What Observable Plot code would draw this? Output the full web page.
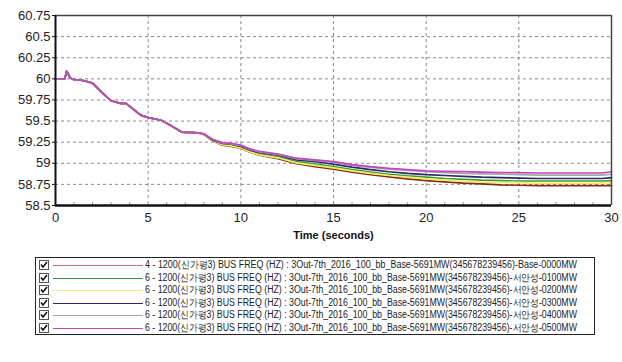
<!DOCTYPE html>
<html><head><meta charset="utf-8">
<script src="https://cdn.jsdelivr.net/npm/d3@7"></script>
<script src="https://cdn.jsdelivr.net/npm/@observablehq/plot@0.6"></script>
<style>
body{margin:0;background:#fff;font-family:"Liberation Sans",Arial,sans-serif;}
#chart{position:absolute;left:0;top:0;}
#legend{position:absolute;left:35px;top:257px;width:560px;height:78px;border:1px solid #222;box-sizing:border-box;background:#fff}
.row{position:absolute;left:0;height:12px;width:100%}
.cb{position:absolute;left:3px;top:1px}
.ln{position:absolute;left:17px;width:90px;top:6px;height:0;border-top:1px solid}
.tx{position:absolute;left:109px;top:0;font-size:10px;line-height:12px;color:#222;white-space:nowrap;transform-origin:0 50%}
</style></head>
<body>
<div id="chart"></div>
<div id="legend"></div>
<script>
const time = [0, 0.5, 0.6, 0.8, 1.0, 1.5, 2.0, 2.5, 3.0, 3.5, 3.8, 4.2, 4.6, 5.0, 5.7, 6.2, 6.8, 7.7, 8.0, 8.5, 9.0, 9.5, 10, 10.5, 11, 12, 13, 14, 15, 16, 17, 18, 19, 20, 21, 22, 23, 24, 25, 26, 27, 28, 29, 29.5, 30];

const freqBase = [60.0, 60.0, 60.09, 60.01, 59.99, 59.98, 59.95, 59.84, 59.74, 59.71, 59.71, 59.64, 59.57, 59.54, 59.51, 59.45, 59.37, 59.36,
  59.34, 59.26, 59.215, 59.20, 59.175, 59.13, 59.095, 59.055, 58.995, 58.96, 58.93, 58.895, 58.865, 58.84, 58.815, 58.795, 58.78, 58.765, 58.755, 58.745, 58.74, 58.735, 58.735, 58.735, 58.735, 58.735, 58.735];
const freq0100 = [60.0, 60.0, 60.09, 60.01, 59.99, 59.98, 59.95, 59.84, 59.74, 59.71, 59.71, 59.64, 59.57, 59.54, 59.51, 59.45, 59.37, 59.36,
  59.34, 59.27, 59.23, 59.215, 59.19, 59.145, 59.11, 59.075, 59.02, 58.99, 58.96, 58.925, 58.895, 58.87, 58.85, 58.835, 58.82, 58.81, 58.80, 58.795, 58.79, 58.79, 58.79, 58.79, 58.79, 58.79, 58.795];
const freq0200 = [60.0, 60.0, 60.09, 60.01, 59.99, 59.98, 59.95, 59.84, 59.74, 59.71, 59.71, 59.64, 59.57, 59.54, 59.51, 59.45, 59.37, 59.36,
  59.34, 59.26, 59.22, 59.205, 59.18, 59.135, 59.10, 59.065, 59.005, 58.975, 58.945, 58.91, 58.88, 58.855, 58.835, 58.815, 58.80, 58.79, 58.78, 58.775, 58.77, 58.765, 58.765, 58.765, 58.765, 58.765, 58.77];
const freq0300 = [60.0, 60.0, 60.09, 60.01, 59.99, 59.98, 59.95, 59.84, 59.74, 59.71, 59.71, 59.64, 59.57, 59.54, 59.51, 59.45, 59.37, 59.36,
  59.35, 59.27, 59.235, 59.225, 59.20, 59.155, 59.125, 59.095, 59.04, 59.02, 58.99, 58.955, 58.925, 58.90, 58.88, 58.865, 58.855, 58.845, 58.835, 58.83, 58.825, 58.82, 58.82, 58.82, 58.82, 58.82, 58.83];
const freq0400 = [60.0, 60.0, 60.09, 60.01, 59.99, 59.98, 59.95, 59.84, 59.74, 59.71, 59.71, 59.64, 59.57, 59.54, 59.51, 59.45, 59.37, 59.36,
  59.35, 59.28, 59.24, 59.23, 59.21, 59.165, 59.135, 59.105, 59.055, 59.035, 59.01, 58.975, 58.95, 58.93, 58.915, 58.90, 58.89, 58.88, 58.875, 58.87, 58.865, 58.86, 58.86, 58.86, 58.86, 58.86, 58.87];
const freq0500 = [60.0, 60.0, 60.09, 60.01, 59.99, 59.98, 59.95, 59.84, 59.74, 59.71, 59.71, 59.64, 59.57, 59.54, 59.51, 59.45, 59.37, 59.36,
  59.35, 59.28, 59.245, 59.235, 59.215, 59.17, 59.14, 59.11, 59.06, 59.04, 59.02, 58.985, 58.96, 58.94, 58.925, 58.91, 58.905, 58.90, 58.895, 58.89, 58.89, 58.885, 58.885, 58.885, 58.885, 58.885, 58.90];

const seriesNames = [
  "4 - 1200(신가평3) BUS FREQ (HZ) : 3Out-7th_2016_100_bb_Base-5691MW(345678239456)-Base-0000MW",
  "6 - 1200(신가평3) BUS FREQ (HZ) : 3Out-7th_2016_100_bb_Base-5691MW(345678239456)-서안성-0100MW",
  "6 - 1200(신가평3) BUS FREQ (HZ) : 3Out-7th_2016_100_bb_Base-5691MW(345678239456)-서안성-0200MW",
  "6 - 1200(신가평3) BUS FREQ (HZ) : 3Out-7th_2016_100_bb_Base-5691MW(345678239456)-서안성-0300MW",
  "6 - 1200(신가평3) BUS FREQ (HZ) : 3Out-7th_2016_100_bb_Base-5691MW(345678239456)-서안성-0400MW",
  "6 - 1200(신가평3) BUS FREQ (HZ) : 3Out-7th_2016_100_bb_Base-5691MW(345678239456)-서안성-0500MW"
];
const seriesColors = ["#8a2a1a", "#3a9a3a", "#f2f060", "#2a2a66", "#a8a8a8", "#c048c0"];
const legendLineColors = ["#c07080", "#3a9a3a", "#eeea90", "#2a2a66", "#a8a8a8", "#c048c0"];
const seriesValues = [freqBase, freq0100, freq0200, freq0300, freq0400, freq0500];

const xTicks = [0, 5, 10, 15, 20, 25, 30];
const xMinorTicks = [1,2,3,4,6,7,8,9,11,12,13,14,16,17,18,19,21,22,23,24,26,27,28,29];
const yTicks = [58.5, 58.75, 59, 59.25, 59.5, 59.75, 60, 60.25, 60.5, 60.75];
const xLabel = "Time (seconds)";

const rows = [];
seriesValues.forEach((vals, si) => {
  vals.forEach((v, i) => rows.push({series: seriesNames[si], t: time[i], f: v}));
});

const innerX = xTicks.slice(1, -1);
const innerY = yTicks.slice(1, -1);
const yMin = yTicks[0], yMax = yTicks[yTicks.length - 1];

const plot = Plot.plot({
  width: 622,
  height: 245,
  marginLeft: 55,
  marginRight: 11,
  marginTop: 15,
  marginBottom: 40,
  style: {fontFamily: "'Liberation Sans', Arial, sans-serif", background: "#fff", color: "#222"},
  x: {domain: [xTicks[0], xTicks[xTicks.length - 1]], axis: null},
  y: {domain: [yMin, yMax], axis: null},
  color: {domain: seriesNames, range: seriesColors},
  marks: [
    Plot.ruleY(innerY, {y: d => d, stroke: "#8a8a8a", strokeDasharray: "3,3", strokeWidth: 1}),
    Plot.ruleX(innerX, {x: d => d, stroke: "#8a8a8a", strokeDasharray: "3,3", strokeWidth: 1}),
    Plot.line(rows, {x: "t", y: "f", z: "series", stroke: "series", strokeWidth: 1.7}),
    Plot.ruleY([yMax], {stroke: "#444", strokeWidth: 1.5}),
    Plot.ruleX([30], {stroke: "#444", strokeWidth: 1.5}),
    Plot.axisX(xMinorTicks, {anchor: "bottom", tickSize: -3, tickFormat: () => "", label: null, stroke: "#999"}),
    Plot.ruleX([0], {stroke: "#111", strokeWidth: 2}),
    Plot.ruleY([yMin], {stroke: "#111", strokeWidth: 2.5}),
    Plot.axisY(yTicks, {anchor: "left", tickSize: 3, tickPadding: 2, fontSize: 13, tickFormat: d => String(d), label: null, stroke: "#111", fill: "#222"}),
    Plot.axisX(xTicks, {anchor: "bottom", tickSize: 0, tickPadding: 7, fontSize: 13, tickFormat: d => String(d), label: null, fill: "#222"}),
    Plot.text([xLabel], {frameAnchor: "bottom", dy: 33, text: d => d, fontSize: 11, fontWeight: "bold", fill: "#111"})
  ]
});
document.getElementById("chart").appendChild(plot);

const legend = document.getElementById("legend");
seriesNames.forEach((name, i) => {
  const row = document.createElement("div");
  row.className = "row";
  row.style.top = (1 + i * 12.6) + "px";
  row.innerHTML = `<svg class="cb" width="10" height="10"><rect x="0.5" y="0.5" width="9" height="9" fill="#fff" stroke="#555"/><path d="M2 4.5 L4 7 L8 2" fill="none" stroke="#111" stroke-width="1.6"/></svg>` +
    `<div class="ln" style="border-top-color:${legendLineColors[i]}"></div>` +
    `<div class="tx">${name}</div>`;
  legend.appendChild(row);
});
document.querySelectorAll(".tx").forEach(el => {
  const w = el.getBoundingClientRect().width;
  el.style.transform = `scaleX(${432 / w})`;
});
</script>
</body></html>
